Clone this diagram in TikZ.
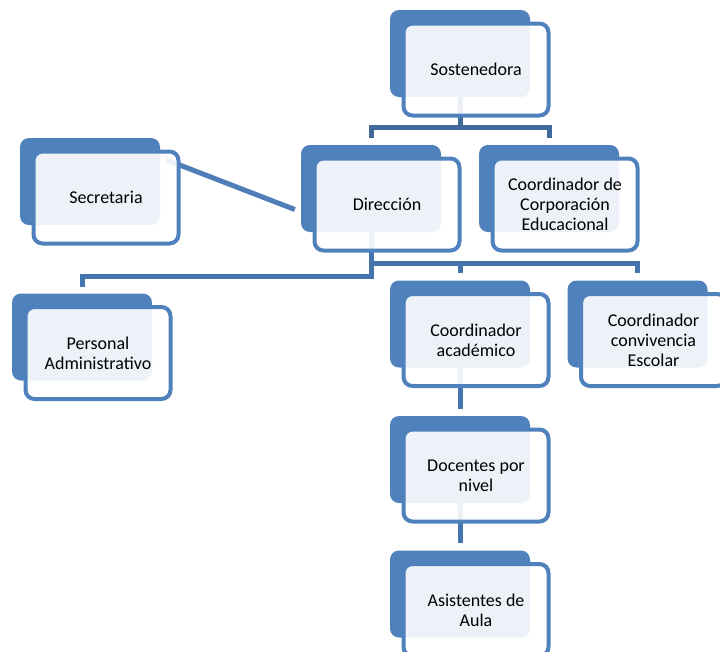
\documentclass[tikz,border=0pt]{standalone}
\usepackage{fontspec}
\setmainfont{Carlito}
\usetikzlibrary{calc}
\definecolor{accent}{HTML}{4F81BD}
\definecolor{lineA}{HTML}{41699B}
\definecolor{lineB}{HTML}{4674AD}
\definecolor{lineS}{HTML}{4F7DB8}
\pgfdeclarelayer{background}
\pgfsetlayers{background,main}
\begin{document}
\begin{tikzpicture}[x=1pt,y=-1pt,
  backbox/.style={draw=none, fill=accent, rounded corners=9pt, minimum width=140pt, minimum height=87pt, inner sep=0pt},
  frontbox/.style={draw=accent, line width=4pt, fill=white, fill opacity=0.9, draw opacity=1, text opacity=1, rounded corners=9pt, minimum width=145pt, minimum height=92pt, inner sep=0pt, align=center, font=\fontsize{18}{20}\selectfont, text=black},
  conn/.style={line width=5pt},
]
\useasboundingbox (0,0) rectangle (720,651);

% Sostenedora
\node[backbox] (sosB) at (460,53.5) {};
\node[frontbox] (sos) at (476,69.5) {Sostenedora};
% Secretaria
\node[backbox] (secB) at (90,181.5) {};
\node[frontbox] (sec) at (106,197.5) {Secretaria};
% Direccion
\node[backbox] (dirB) at (371,188.5) {};
\node[frontbox] (dir) at (387,204.5) {Dirección};
% Coordinador de Corporacion
\node[backbox] (corB) at (549,188.5) {};
\node[frontbox] (cor) at (565,204.5) {Coordinador de\\Corporación\\Educacional};
% Personal Administrativo
\node[backbox] (perB) at (82,337) {};
\node[frontbox] (per) at (98,353) {Personal\\Administrativo};
% Coordinador academico
\node[backbox] (acaB) at (460,324) {};
\node[frontbox] (aca) at (476,340) {Coordinador\\académico};
% Coordinador convivencia
\node[backbox] (conB) at (637.5,324) {};
\node[frontbox] (con) at (653.5,340) {Coordinador\\convivencia\\Escolar};
% Docentes
\node[backbox] (docB) at (460,459.5) {};
\node[frontbox] (doc) at (476,475.5) {Docentes por\\nivel};
% Asistentes
\node[backbox] (asiB) at (460,594) {};
\node[frontbox] (asi) at (476,610) {Asistentes de\\Aula};

\begin{pgfonlayer}{background}
  \coordinate (busA) at ($(dirB.north)+(0,-17)$);
  \coordinate (busB) at ($(acaB.north)+(0,-17)$);
  \coordinate (busC) at ($(perB.north)+(0,-17)$);
  % Sostenedora bus
  \draw[conn,lineA] (sosB.south) -- (sosB.south |- busA);
  \draw[conn,lineA] ($(dirB.north)+(0,-7)$) |- (busA -| corB.north) -- ($(corB.north)+(0,-7)$);
  % Direccion bus
  \draw[conn,lineB] (dirB.south) |- (busC) -- ($(perB.north)+(0,-6)$);
  \draw[conn,lineB] (dirB.south |- busB) -| ($(conB.north)+(0,-7)$);
  \draw[conn,lineB] (busB) -- ($(acaB.north)+(0,-7)$);
  % chain
  \draw[conn,lineB] (acaB.south) -- ($(docB.north)+(0,-7)$);
  \draw[conn,lineB] (docB.south) -- ($(asiB.north)+(0,-7)$);
  % Secretaria
  \draw[conn,lineS] ($(secB.north east)+(6,22)$) coordinate (secEnd) -- ($(dirB.west)+(-6,21)$) coordinate (dirEnd);
\end{pgfonlayer}
\end{tikzpicture}
\end{document}
